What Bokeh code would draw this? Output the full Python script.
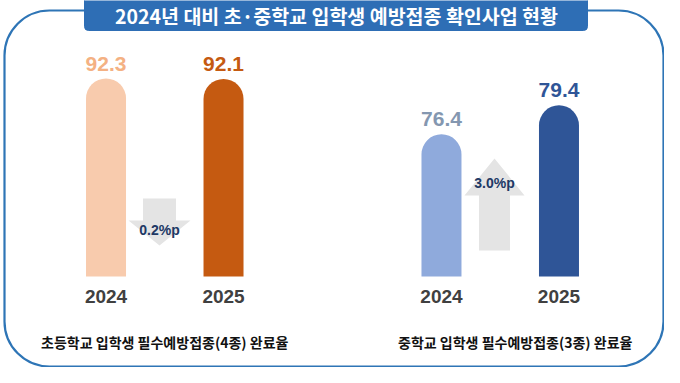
from bokeh.plotting import figure
from bokeh.models import Range1d, FactorRange, BoxAnnotation, ColumnDataSource
from bokeh.core.properties import value
from bokeh.embed import file_html
from bokeh.resources import INLINE

# ---------------- data ----------------
TITLE = "2024년 대비 초·중학교 입학생 예방접종 확인사업 현황"
groups = ["초등학교", "중학교"]
years = ["2024", "2025"]
elementary_rates = [92.3, 92.1]
middle_rates = [76.4, 79.4]
captions = ["초등학교 입학생 필수예방접종(4종) 완료율",
            "중학교 입학생 필수예방접종(3종) 완료율"]

# ---------------- styles / layout ----------------
bar_colors = [["#f8cbad", "#c55a11"], ["#8faadc", "#2f5597"]]
label_colors = [["#f4b183", "#c55a11"], ["#8497b0", "#2f5597"]]
NUM_FONT = value("Liberation Sans")
KR_FONT = value("Noto Sans CJK KR")
BORDER_BLUE = "#2e75b6"
TITLE_BLUE = "#2e6eb5"

W, H = 664, 367
OFF = 8
GROUP_PAD = 0.855
RANGE_PAD = 0.398
U = W / (len(groups) * len(years) + GROUP_PAD * (len(groups) - 1) + 2 * RANGE_PAD)


def sx(page_x):
    """page pixel x -> synthetic categorical coordinate"""
    return (page_x - OFF) / U - RANGE_PAD


def fy(page_y):
    return OFF + H - page_y


BASE_Y = fy(284)                      # bar baseline on screen
scales = {"elem": (0.0, 2.145),       # (baseline value, px per unit)
          "mid": (61.7, 9.67)}

factors = [(g, y) for g in groups for y in years]
x_range = FactorRange(factors=factors, group_padding=GROUP_PAD,
                      range_padding=RANGE_PAD, range_padding_units="absolute")

p = figure(width=W, height=H, x_range=x_range, y_range=Range1d(0, H),
           x_axis_type=None, y_axis_type=None, output_backend="svg",
           toolbar_location=None, min_border=0, outline_line_color=None,
           background_fill_color="white", border_fill_color="white")

for name, (base, a) in scales.items():
    start = base - BASE_Y / a
    p.extra_y_ranges[name] = Range1d(start, start + H / a)

# frame and title box
p.add_layout(BoxAnnotation(left=sx(12), right=sx(671), top=fy(18), bottom=fy(374),
                           fill_color=None, fill_alpha=0, line_color=BORDER_BLUE,
                           line_width=2.2, line_alpha=1, border_radius=45,
                           level="underlay"))
p.add_layout(BoxAnnotation(left=sx(92), right=sx(595), top=H + 6, bottom=fy(38),
                           fill_color=TITLE_BLUE, fill_alpha=1, line_color=TITLE_BLUE,
                           line_alpha=1, border_radius=4, level="underlay"))
p.text(x=[sx(344)], y=[fy(23)], text=[TITLE], text_align="center",
       text_baseline="middle", text_font=KR_FONT, text_font_style="bold",
       text_font_size="19.5px", text_color="white")

# bars per panel
panels = [("elem", elementary_rates), ("mid", middle_rates)]
for gi, (rname, rates) in enumerate(panels):
    g = groups[gi]
    base = scales[rname][0]
    src = ColumnDataSource(dict(
        x=[(g, y) for y in years],
        year=years,
        top=rates,
        bottom=[base] * len(rates),
        color=bar_colors[gi],
        lcolor=label_colors[gi],
        label=[f"{v:.1f}" for v in rates],
    ))
    p.vbar(x="x", top="top", bottom="bottom", width=40 / U, source=src,
           fill_color="color", line_color=None, border_radius=(20, 20, 0, 0),
           y_range_name=rname)
    p.text(x="x", y="top", text="label", source=src, y_offset=-15,
           text_align="center", text_baseline="middle", text_font=NUM_FONT,
           text_font_style="bold", text_font_size="21px", text_color="lcolor",
           y_range_name=rname)
    # year labels
    p.text(x="x", y=BASE_Y, text="year", source=src, y_offset=20,
           text_align="center", text_baseline="middle", text_font=NUM_FONT,
           text_font_style="bold", text_font_size="19px", text_color="#404040")

# change arrows (direction from the sign of the difference)
arrow_specs = [
    # cx, tail_y, tip_y, head_base_y, shaft_hw, head_hw, text_y  (page px)
    (167, 206, 253, 228, 16.5, 31, 237),
    (502, 258, 166, 203, 15.5, 30, 190),
]
for (rname, rates), (cx, ty, tipy, hy, shw, hhw, txy) in zip(panels, arrow_specs):
    diff = rates[1] - rates[0]
    xs = [cx - shw, cx + shw, cx + shw, cx + hhw, cx, cx - hhw, cx - shw]
    ys = [ty, ty, hy, hy, tipy, hy, hy]
    p.patch([sx(v) for v in xs], [fy(v) for v in ys], fill_color="#e4e4e4",
            line_color=None)
    p.text(x=[sx(cx)], y=[fy(txy)], text=[f"{abs(diff):.1f}%p"],
           text_align="center", text_baseline="middle", text_font=NUM_FONT,
           text_font_style="bold", text_font_size="14px", text_color="#203864")

# captions under each panel
cap_src = ColumnDataSource(dict(x=groups, text=captions, xo=[0, 15]))
p.text(x="x", y=fy(349), text="text", x_offset="xo", source=cap_src,
       text_align="center", text_baseline="middle", text_font=KR_FONT,
       text_font_style="bold", text_font_size="14px", text_color="#111111")

open("out.html", "w").write(file_html(p, INLINE))
